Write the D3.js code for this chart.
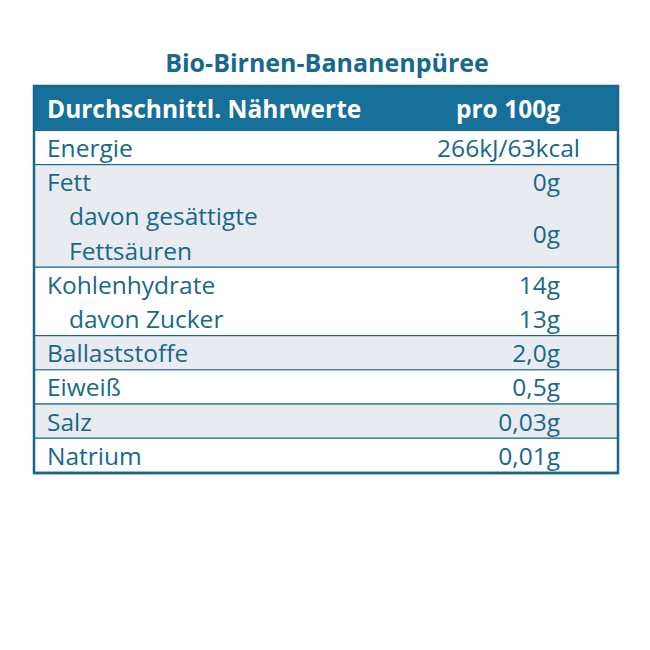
<!DOCTYPE html>
<html><head><meta charset="utf-8">
<script src="https://cdn.jsdelivr.net/npm/d3@7"></script>
<style>body{margin:0;background:#fff}</style>
</head><body>
<script>
var title = "Bio-Birnen-Bananenpüree";
var header = ["Durchschnittl. Nährwerte", "pro 100g"];
// each group: label lines [text, indent, value], shaded
var groups = [
  {lines: [["Energie", 0, "266kJ/63kcal"]], shade: false},
  {lines: [["Fett", 0, "0g"], ["davon gesättigte", 1, null], ["Fettsäuren", 1, null]], shade: true, mergedValue: "0g"},
  {lines: [["Kohlenhydrate", 0, "14g"], ["davon Zucker", 1, "13g"]], shade: false},
  {lines: [["Ballaststoffe", 0, "2,0g"]], shade: true},
  {lines: [["Eiweiß", 0, "0,5g"]], shade: false},
  {lines: [["Salz", 0, "0,03g"]], shade: true},
  {lines: [["Natrium", 0, "0,01g"]], shade: false}
];

var teal = "#17688c", fillHead = "#16709a", gray = "#e8ecf0";
var W = 650, H = 650, x0 = 34, x1 = 618, headTop = 86, headBot = 131;
var font = "'Open Sans', 'Noto Sans', sans-serif";
var fs = 24.5;
var nLines = d3.sum(groups, g => g.lines.length);
var y = d3.scaleLinear().domain([0, nLines]).range([headBot, 473]);

var svg = d3.select("body").append("svg").attr("width", W).attr("height", H);

svg.append("text").attr("x", 327).attr("y", 72).attr("text-anchor", "middle")
  .attr("font-family", font).attr("font-weight", 700).attr("font-size", 25)
  .attr("fill", teal).text(title);

svg.append("rect").attr("x", x0).attr("y", headTop).attr("width", x1 - x0).attr("height", headBot - headTop).attr("fill", fillHead);
svg.append("text").attr("x", 47).attr("y", 118).attr("font-family", font).attr("font-weight", 700)
  .attr("font-size", 24.5).attr("fill", "#fff").text(header[0]);
svg.append("text").attr("x", 560).attr("y", 118).attr("text-anchor", "end").attr("font-family", font).attr("font-weight", 700)
  .attr("font-size", 24.5).attr("fill", "#fff").text(header[1]);

function label(x, yy, t, anchor) {
  svg.append("text").attr("x", x).attr("y", yy).attr("text-anchor", anchor || "start")
    .attr("font-family", font).attr("font-size", fs).attr("fill", teal).text(t);
}

var idx = 0;
groups.forEach(function(g) {
  var start = idx, n = g.lines.length;
  svg.append("rect").attr("x", x0).attr("y", y(start)).attr("width", x1 - x0).attr("height", y(start + n) - y(start))
    .attr("fill", g.shade ? gray : "#fff");
  g.lines.forEach(function(l, i) {
    var yy = y(start + i) + 26;
    label(l[1] ? 69 : 47, yy, l[0]);
    if (l[2]) label(l[2].indexOf("kcal") > 0 ? 580 : 560, yy, l[2], "end");
  });
  if (g.mergedValue) {
    label(560, (y(start + 1) + y(start + 3)) / 2 + 9, g.mergedValue, "end");
  }
  idx += n;
  svg.append("line").attr("x1", x0).attr("x2", x1).attr("y1", y(idx)).attr("y2", y(idx))
    .attr("stroke", teal).attr("stroke-width", 2.5);
});

svg.append("rect").attr("x", x0).attr("y", headTop).attr("width", x1 - x0).attr("height", y(nLines) - headTop)
  .attr("fill", "none").attr("stroke", teal).attr("stroke-width", 2.5);
</script>
</body></html>
